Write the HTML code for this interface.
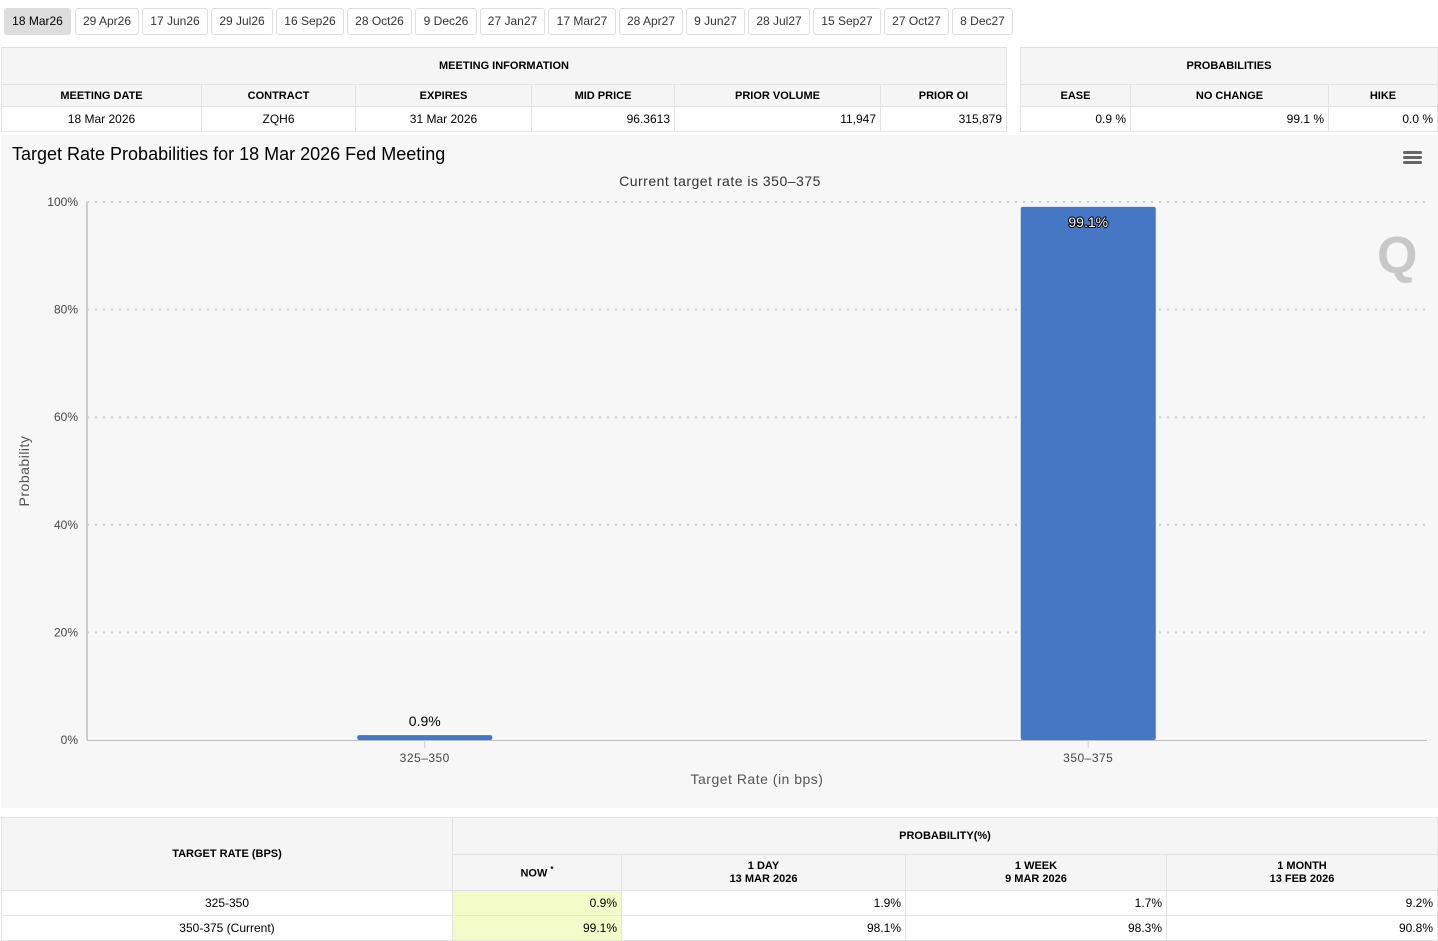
<!DOCTYPE html>
<html><head><meta charset="utf-8">
<style>
*{box-sizing:border-box}
body{margin:0;width:1438px;height:937px;overflow:hidden;background:#fff;font-family:"Liberation Sans",Arial,sans-serif;color:#000;position:relative}
.tab{position:absolute;top:8px;height:27px;border:1px solid #ddd;border-radius:3px;font-size:12px;line-height:25px;text-align:center;color:#333;background:#fff}
.tab.act{background:#ddd;border-color:#ddd;color:#000}
table{border-collapse:collapse;position:absolute;font-size:12px}
td,th{border:1px solid #e2e2e2;padding:0 4px}
th{background:#f5f5f5;font-size:11px;font-weight:bold;text-align:center}
td{text-align:right}
td.c{text-align:center}
.now{background:#f3fcc8}
</style></head><body>
<div id="tabs"></div>

<table style="left:1px;top:47px;width:1006px">
<tr style="height:37px"><th colspan="6">MEETING INFORMATION</th></tr>
<tr style="height:22px"><th style="width:200px">MEETING DATE</th><th style="width:154px">CONTRACT</th><th style="width:176px">EXPIRES</th><th style="width:143px">MID PRICE</th><th style="width:206px">PRIOR VOLUME</th><th>PRIOR OI</th></tr>
<tr style="height:25px"><td class="c">18 Mar 2026</td><td class="c">ZQH6</td><td class="c">31 Mar 2026</td><td>96.3613</td><td>11,947</td><td>315,879</td></tr>
</table>
<table style="left:1020px;top:47px;width:418px">
<tr style="height:37px"><th colspan="3">PROBABILITIES</th></tr>
<tr style="height:22px"><th style="width:110px">EASE</th><th style="width:198px">NO CHANGE</th><th>HIKE</th></tr>
<tr style="height:25px"><td>0.9 %</td><td>99.1 %</td><td>0.0 %</td></tr>
</table>

<svg id="chart" style="position:absolute;left:1px;top:135px" width="1437" height="673"></svg>

<table style="left:1px;top:817px;width:1437px">
<tr style="height:37px"><th rowspan="2" style="width:451px">TARGET RATE (BPS)</th><th colspan="4">PROBABILITY(%)</th></tr>
<tr style="height:36px"><th style="width:169px;background:#f5f5f5">NOW <sup style="font-size:8px">*</sup></th><th style="width:284px;line-height:13px">1 DAY<br>13 MAR 2026</th><th style="width:261px;line-height:13px">1 WEEK<br>9 MAR 2026</th><th style="line-height:13px">1 MONTH<br>13 FEB 2026</th></tr>
<tr style="height:25px"><td class="c">325-350</td><td class="now">0.9%</td><td>1.9%</td><td>1.7%</td><td>9.2%</td></tr>
<tr style="height:25px"><td class="c">350-375 (Current)</td><td class="now">99.1%</td><td>98.1%</td><td>98.3%</td><td>90.8%</td></tr>
</table>

<script>
const tabLabels=["18 Mar26","29 Apr26","17 Jun26","29 Jul26","16 Sep26","28 Oct26","9 Dec26","27 Jan27","17 Mar27","28 Apr27","9 Jun27","28 Jul27","15 Sep27","27 Oct27","8 Dec27"];
const tabX=[4,75,142,211,276,347,415,480,548,619,686,748,813,884,952];
const tabW=[67,64,66,62,68,65,62,65,68,64,59,62,68,65,61];
const tabs=document.getElementById('tabs');
tabLabels.forEach((t,i)=>{const d=document.createElement('div');d.className='tab'+(i===0?' act':'');
d.style.left=tabX[i]+'px';d.style.width=tabW[i]+'px';d.textContent=t;


tabs.appendChild(d);});

const categories=["325-350","350-375"];
const values=[0.9,99.1];
const yTicks=[0,20,40,60,80,100];
const NS='http://www.w3.org/2000/svg';
const svg=document.getElementById('chart');
const AX0=86,AX1=1426,X0=92,X1=1419,Y0=605,Y1=67;
const yS=v=>Y0-(v/100)*(Y0-Y1);
const bw=(X1-X0)/categories.length;
const xC=i=>X0+bw*(i+0.5);
function el(tag,a,txt){const e=document.createElementNS(NS,tag);for(const k in a)e.setAttribute(k,a[k]);if(txt!==undefined)e.textContent=txt;svg.appendChild(e);return e;}
let r=el('rect',{x:0,y:0,width:1437,height:673,fill:'#f7f7f7'});


let t=el('text',{x:11,y:25,'font-size':18,fill:'#000'},'Target Rate Probabilities for 18 Mar 2026 Fed Meeting');


t=el('text',{x:719,y:51,'font-size':14,fill:'#333','text-anchor':'middle','letter-spacing':'0.5'},'Current target rate is 350–375');


const menu=el('g',{});


[16,21,26].forEach(y=>{const l=document.createElementNS(NS,'rect');l.setAttribute('x',1402);l.setAttribute('y',y);l.setAttribute('width',19);l.setAttribute('height',3);l.setAttribute('rx',1.5);l.setAttribute('fill','#666');menu.appendChild(l);});
yTicks.forEach(v=>{
 if(v>0){const g=el('line',{x1:AX0,x2:AX1,y1:yS(v),y2:yS(v),stroke:'#ccc','stroke-dasharray':'2,6','stroke-width':2});
 
 }
 const lb=el('text',{x:77,y:yS(v)+4,'font-size':12,fill:'#444','text-anchor':'end'},v+'%');
 
 
});
let ax=el('line',{x1:AX0,x2:AX0,y1:Y1,y2:Y0,stroke:'#ccc','stroke-width':2});


ax=el('line',{x1:AX0,x2:AX1,y1:Y0+0.5,y2:Y0+0.5,stroke:'#bbb','stroke-width':1});


t=el('text',{x:28,y:336,'font-size':14,fill:'#555','text-anchor':'middle',transform:'rotate(-90 28 336)','letter-spacing':'0.5'},'Probability');


t=el('text',{x:756,y:649,'font-size':14,fill:'#555','text-anchor':'middle','letter-spacing':'0.5'},'Target Rate (in bps)');


const wm=el('text',{x:1376,y:138,'font-size':52,'font-weight':'bold',fill:'#c8c8c8'},'Q');


categories.forEach((c,i)=>{
 const cx=xC(i),w=135,top=yS(values[i]);
 const b=el('rect',{x:cx-w/2,y:top,width:w,height:Y0-top,fill:'#4677c4',rx:2});
 
 
 const inside=values[i]>10;
 const lb=el('text',{x:cx,y:inside?top+20:top-9,'font-size':14,'text-anchor':'middle',fill:inside?'#fff':'#000',stroke:inside?'#000':'none','stroke-width':inside?2:0,'paint-order':'stroke','stroke-linejoin':'round'},values[i].toFixed(1)+'%');
 
 
 const tk=el('line',{x1:cx,x2:cx,y1:Y0,y2:Y0+8,stroke:'#ccc'});
 
 
 const xl=el('text',{x:cx,y:Y0+22,'font-size':12,fill:'#444','text-anchor':'middle','letter-spacing':'0.5'},c.replace('-','–'));
 
 
});
</script>
</body></html>
